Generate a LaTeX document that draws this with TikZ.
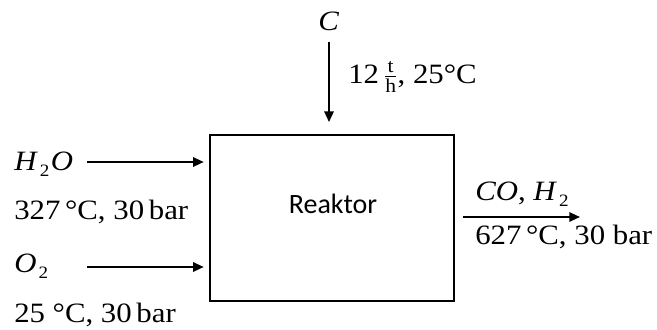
\documentclass[tikz,border=0pt]{standalone}
\usepackage{amsmath}
\usepackage{fontspec}
\setmainfont{Liberation Serif}[FakeStretch=1.1]
\newfontfamily\reaktorfont{Carlito}
\usetikzlibrary{arrows.meta}

\newcommand{\lowtwo}{\kern1.5pt\raisebox{-5pt}{\fontsize{13}{15}\selectfont 2}\kern1pt}

\tikzset{
  flow/.style={-{Triangle[length=8pt,width=7pt]},line width=1.5pt},
  lbl/.style={anchor=base west,inner sep=0pt,font=\fontsize{21}{25}\selectfont}
}

\begin{document}
\begin{tikzpicture}[x=0.75pt,y=-0.75pt]
\useasboundingbox (0,0) rectangle (657,329);
\node[draw,line width=1.4pt,minimum width=183pt,minimum height=124.5pt,inner sep=0pt] (box) at (332,218) {};
\node[anchor=base,inner sep=0pt,font=\reaktorfont\fontsize{21}{25}\selectfont] (reaktor) at (333,213) {Reaktor};
% feed streams
\node[lbl] (c) at (318,30) {\textit{C}};
\node[lbl] (cdata) at (348,83) {12\,$\frac{\text{t}}{\text{h}}$, 25°C};
\node[lbl] (h2o) at (14,170) {\textit{H}\lowtwo\textit{O}};
\node[lbl] (h2odata) at (14,219) {327\,°C, 30\,bar};
\node[lbl] (o2) at (14,272) {\textit{O}\lowtwo};
\node[lbl] (o2data) at (14,322) {25 °C, 30\,bar};
% product stream
\node[lbl] (prod) at (475,200) {\textit{CO}, \textit{H}\lowtwo};
\node[lbl] (proddata) at (475,244) {627\,°C, 30 bar};
\coordinate (cin) at (329,42);
\coordinate (h2oin) at (87,162);
\coordinate (o2in) at (87,267);
\coordinate (prodout) at (580,217);
\draw[flow,shorten >=9pt] (cin) -- (cin |- box.north);
\draw[flow,shorten >=4pt] (h2oin) -- (h2oin -| box.west);
\draw[flow,shorten >=4pt] (o2in) -- (o2in -| box.west);
\draw[flow,shorten <=6pt] (prodout -| box.east) -- (prodout);
\end{tikzpicture}
\end{document}
